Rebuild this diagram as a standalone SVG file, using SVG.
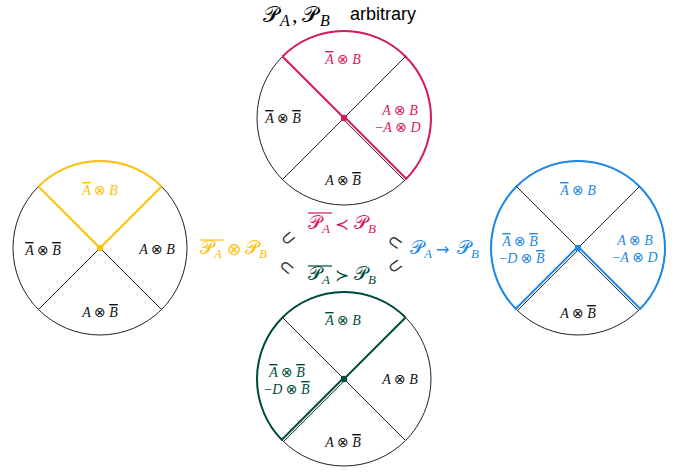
<svg xmlns="http://www.w3.org/2000/svg" width="689" height="473" viewBox="0 0 689 473">
<style>
.c{fill:none;stroke:#222;stroke-width:1}
.k{stroke:#222;stroke-width:1;fill:none}
.red{stroke:#D81B60;stroke-width:2;fill:none}
.yel{stroke:#FFC107;stroke-width:2;fill:none}
.blu{stroke:#1E88E5;stroke-width:2;fill:none}
.grn{stroke:#004D40;stroke-width:2;fill:none}
.m{font-family:"Liberation Serif","DejaVu Serif",serif;font-style:italic;font-size:14px;text-anchor:middle}
.op{font-style:normal;font-family:"DejaVu Sans",sans-serif;font-size:14px}
.ol{text-decoration:overline}
.P{font-family:"DejaVu Serif","Noto Sans","DejaVu Sans",serif;font-style:normal}
.s{font-family:"Liberation Serif","DejaVu Serif",serif;font-style:italic}
.tR{fill:#D81B60}.tY{fill:#FFC107}.tB{fill:#1E88E5}.tG{fill:#004D40}.tK{fill:#111}
</style>
<g id="title">
<text y="22" font-size="22" class="P" x="263">𝒫</text>
<text y="26" font-size="16" class="s" x="280">A</text>
<text y="22" font-size="22" class="s" x="292" font-style="normal">,</text>
<text y="22" font-size="22" class="P" x="302">𝒫</text>
<text y="26" font-size="16" class="s" x="320">B</text>
<text y="20" font-size="18" x="350" font-family="Liberation Sans,Arial,sans-serif">arbitrary</text>
</g>
<g id="circle-top">
<circle class="c" cx="344" cy="118" r="87"/>
<path class="red" d="M282.48,56.48 A87,87 0 1 1 405.52,179.52"/>
<line class="k" x1="344" y1="118" x2="405.52" y2="56.48"/>
<line class="k" x1="344" y1="118" x2="282.48" y2="179.52"/>
<line class="red" x1="282.48" y1="56.48" x2="344" y2="118"/>
<line class="red" x1="344.7" y1="117.3" x2="406.2" y2="178.8"/>
<line class="k" x1="342.9" y1="119.1" x2="404.5" y2="180.6"/>
<circle cx="344" cy="118" r="3.2" fill="#D81B60"/>
<text class="m tR" x="343" y="64"><tspan class="ol">A</tspan> <tspan class="op">⊗</tspan> B</text>
<text class="m tK" x="283" y="123"><tspan class="ol">A</tspan> <tspan class="op">⊗</tspan> <tspan class="ol">B</tspan></text>
<text class="m tR" x="400" y="115">A <tspan class="op">⊗</tspan> B</text>
<text class="m tR" x="398" y="132"><tspan font-style="normal">−</tspan>A <tspan class="op">⊗</tspan> D</text>
<text class="m tK" x="343" y="185">A <tspan class="op">⊗</tspan> <tspan class="ol">B</tspan></text>
</g>
<g id="circle-left">
<circle class="c" cx="100" cy="248" r="87"/>
<path class="yel" d="M38.48,186.48 A87,87 0 0 1 161.52,186.48"/>
<line class="k" x1="100" y1="248" x2="38.48" y2="309.52"/>
<line class="k" x1="100" y1="248" x2="161.52" y2="309.52"/>
<polyline class="yel" points="38.48,186.48 100,248 161.52,186.48"/>
<circle cx="100" cy="248" r="3.2" fill="#FFC107"/>
<text class="m tY" x="100" y="195"><tspan class="ol">A</tspan> <tspan class="op">⊗</tspan> B</text>
<text class="m tK" x="43" y="255"><tspan class="ol">A</tspan> <tspan class="op">⊗</tspan> <tspan class="ol">B</tspan></text>
<text class="m tK" x="157" y="254">A <tspan class="op">⊗</tspan> B</text>
<text class="m tK" x="100" y="317">A <tspan class="op">⊗</tspan> <tspan class="ol">B</tspan></text>
</g>
<g id="circle-right">
<circle class="c" cx="578" cy="248" r="87"/>
<path class="blu" d="M639.52,309.52 A87,87 0 1 0 516.48,309.52"/>
<line class="k" x1="578" y1="248" x2="516.48" y2="186.48"/>
<line class="k" x1="578" y1="248" x2="639.52" y2="186.48"/>
<line class="blu" x1="578.7" y1="247.3" x2="640.2" y2="308.8"/>
<line class="k" x1="576.9" y1="249.1" x2="638.5" y2="310.6"/>
<line class="blu" x1="577.3" y1="247.3" x2="515.8" y2="308.8"/>
<line class="k" x1="579.1" y1="249.1" x2="517.5" y2="310.6"/>
<circle cx="578" cy="248" r="3.2" fill="#1E88E5"/>
<text class="m tB" x="578" y="195"><tspan class="ol">A</tspan> <tspan class="op">⊗</tspan> B</text>
<text class="m tB" x="520" y="246"><tspan class="ol">A</tspan> <tspan class="op">⊗</tspan> <tspan class="ol">B</tspan></text>
<text class="m tB" x="522" y="263"><tspan font-style="normal">−</tspan>D <tspan class="op">⊗</tspan> <tspan class="ol">B</tspan></text>
<text class="m tB" x="635" y="245">A <tspan class="op">⊗</tspan> B</text>
<text class="m tB" x="635" y="262"><tspan font-style="normal">−</tspan>A <tspan class="op">⊗</tspan> D</text>
<text class="m tK" x="578" y="318">A <tspan class="op">⊗</tspan> <tspan class="ol">B</tspan></text>
</g>
<g id="circle-bottom">
<circle class="c" cx="344" cy="379" r="87"/>
<path class="grn" d="M405.52,317.48 A87,87 0 0 0 282.48,440.52"/>
<line class="k" x1="344" y1="379" x2="282.48" y2="317.48"/>
<line class="k" x1="344" y1="379" x2="405.52" y2="440.52"/>
<line class="grn" x1="344" y1="379" x2="405.52" y2="317.48"/>
<line class="grn" x1="343.3" y1="378.3" x2="281.8" y2="439.8"/>
<line class="k" x1="345.1" y1="380.1" x2="283.5" y2="441.6"/>
<circle cx="344" cy="379" r="3.2" fill="#004D40"/>
<text class="m tG" x="343" y="325"><tspan class="ol">A</tspan> <tspan class="op">⊗</tspan> B</text>
<text class="m tG" x="287" y="377"><tspan class="ol">A</tspan> <tspan class="op">⊗</tspan> <tspan class="ol">B</tspan></text>
<text class="m tG" x="287" y="394"><tspan font-style="normal">−</tspan>D <tspan class="op">⊗</tspan> <tspan class="ol">B</tspan></text>
<text class="m tK" x="400" y="384">A <tspan class="op">⊗</tspan> B</text>
<text class="m tK" x="343" y="447">A <tspan class="op">⊗</tspan> <tspan class="ol">B</tspan></text>
</g>
<g id="labels">
<g class="tY">
<text class="P" font-size="19" x="200" y="254">𝒫</text><text class="s" font-size="13" x="214" y="258">A</text>
<text font-family="DejaVu Sans,sans-serif" font-size="17" x="227" y="255">⊗</text>
<text class="P" font-size="19" x="245" y="254">𝒫</text><text class="s" font-size="13" x="259" y="258">B</text>
<line x1="200" y1="240" x2="224" y2="240" stroke="#FFC107" stroke-width="1.2"/>
</g>
<g class="tR">
<text class="P" font-size="19" x="308" y="229">𝒫</text><text class="s" font-size="13" x="322" y="233">A</text>
<text font-family="DejaVu Sans,sans-serif" font-size="17" x="335" y="230">≺</text>
<text class="P" font-size="19" x="354" y="229">𝒫</text><text class="s" font-size="13" x="368" y="233">B</text>
<line x1="308" y1="213" x2="332" y2="213" stroke="#D81B60" stroke-width="1.2"/>
</g>
<g class="tG">
<text class="P" font-size="19" x="308" y="280">𝒫</text><text class="s" font-size="13" x="322" y="284">A</text>
<text font-family="DejaVu Sans,sans-serif" font-size="17" x="335" y="281">≻</text>
<text class="P" font-size="19" x="354" y="280">𝒫</text><text class="s" font-size="13" x="368" y="284">B</text>
<line x1="308" y1="266" x2="332" y2="266" stroke="#004D40" stroke-width="1.2"/>
</g>
<g class="tB">
<text class="P" font-size="19" x="410" y="254">𝒫</text><text class="s" font-size="13" x="424" y="258">A</text>
<text font-family="DejaVu Sans,sans-serif" font-size="16" x="436" y="255">→</text>
<text class="P" font-size="19" x="457" y="254">𝒫</text><text class="s" font-size="13" x="471" y="258">B</text>
</g>
<g fill="#333" font-family="DejaVu Sans,sans-serif" font-size="18" text-anchor="middle">
<text transform="translate(288,238) rotate(-40)" y="6">⊂</text>
<text transform="translate(287,267) rotate(40)" y="6">⊂</text>
<text transform="translate(395,242) rotate(35)" y="6">⊂</text>
<text transform="translate(395,266) rotate(-35)" y="6">⊂</text>
</g>
</g>
</svg>
